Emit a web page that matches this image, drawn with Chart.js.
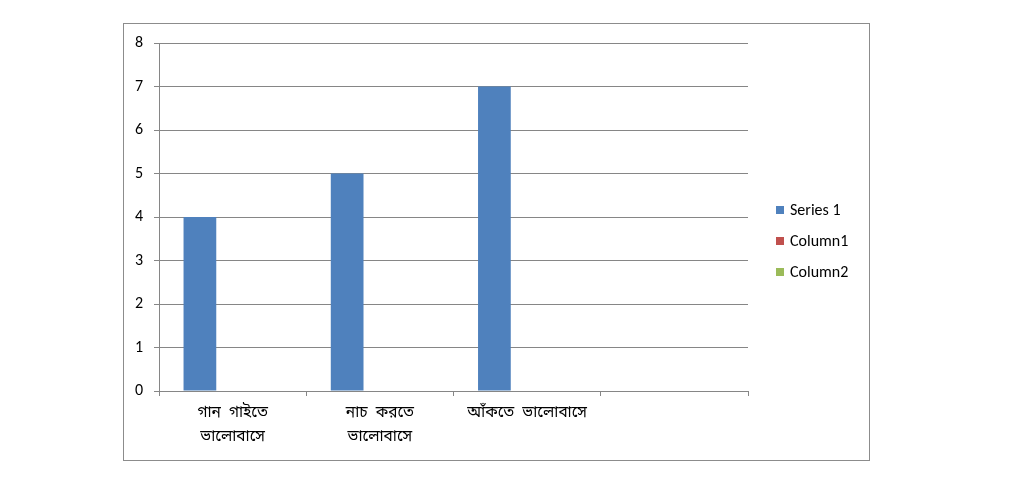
<!DOCTYPE html>
<html>
<head>
<meta charset="utf-8">
<script src="https://cdn.jsdelivr.net/npm/chart.js@4"></script>
<style>
    body { margin: 0; background: #fff; }
    #frame { position: absolute; left: 123px; top: 23px; width: 745px; height: 436px; border: 1px solid #8c8c8c; }
    #chartBox { position: absolute; left: 0; top: 0; width: 1024px; height: 480px; }
    #legend { position: absolute; left: 776px; top: 200px; font: 16px Carlito, Lato, "Liberation Sans", sans-serif; color: #000; }
    #legend div { height: 31px; line-height: 20px; white-space: nowrap; }
    #legend span { display: inline-block; width: 8px; height: 8px; margin-right: 6px; vertical-align: 1px; }
</style>
</head>
<body>
<div id="frame"></div>
<div id="chartBox"><canvas id="chart" width="1024" height="480"></canvas></div>
<div id="legend"></div>
<script>
// Data
const categories = [["গান  গাইতে", "ভালোবাসে"], ["নাচ  করতে", "ভালোবাসে"], "আঁকতে  ভালোবাসে", ""];
const seriesNames = ["Series 1", "Column1", "Column2"];
const series1 = [4, 5, 7, null];
const column1 = [null, null, null, null];
const column2 = [null, null, null, null];
const yMin = 0;
const yMax = 8;
const yStep = 1;

// Styles
const seriesColors = ["#4F81BD", "#C0504D", "#9BBB59"];
const gridColor = "#868686";
const bnFont = "'Noto Sans Bengali', 'Lohit Bengali', 'Noto Serif Bengali', FreeSans, sans-serif";
const latinFont = "Carlito, Lato, 'Liberation Sans', sans-serif";

const chart = new Chart(document.getElementById("chart"), {
    type: "bar",
    data: {
        labels: categories,
        datasets: [series1, column1, column2].map((values, i) => ({
            label: seriesNames[i],
            data: values,
            backgroundColor: seriesColors[i],
            barPercentage: 1,
            categoryPercentage: 3 / 4.5
        }))
    },
    options: {
        responsive: false,
        animation: false,
        devicePixelRatio: 1,
        layout: { padding: { left: 129, top: 43, right: 276, bottom: 29 } },
        plugins: {
            legend: { display: false },
            tooltip: { enabled: false }
        },
        scales: {
            x: {
                grid: { drawOnChartArea: false, offset: true, color: gridColor, tickLength: 5 },
                border: { color: gridColor },
                ticks: {
                    color: "#000",
                    font: { family: bnFont, size: 15.5, lineHeight: 1.55 },
                    padding: 6,
                    maxRotation: 0,
                    autoSkip: false
                },
                afterFit: s => { s.height = 60; }
            },
            y: {
                min: yMin,
                max: yMax,
                ticks: { stepSize: yStep, color: "#000", font: { family: latinFont, size: 16 }, padding: 11 },
                grid: { color: gridColor, tickLength: 5 },
                border: { color: gridColor },
                afterFit: s => { s.width = 30; }
            }
        }
    }
});

// Legend built from the chart's datasets
const legendBox = document.getElementById("legend");
chart.data.datasets.forEach(ds => {
    legendBox.innerHTML += `<div><span style="background:${ds.backgroundColor}"></span>${ds.label}</div>`;
});
</script>
</body>
</html>
